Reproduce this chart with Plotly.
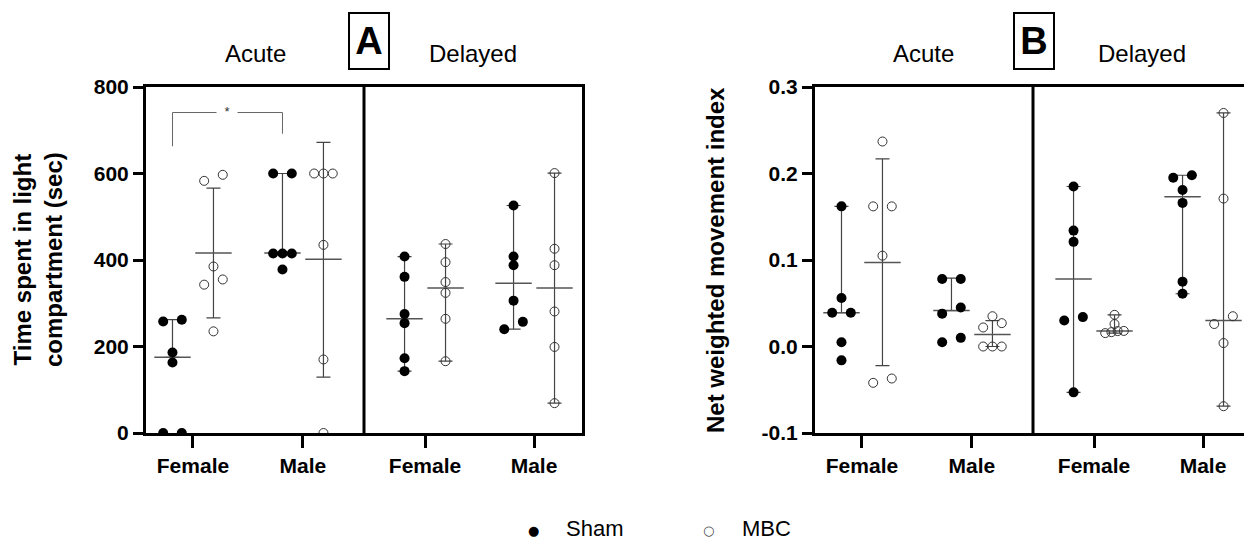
import numpy as np
import plotly.graph_objects as go

# ---------------- data ----------------
tick_labels = ["Female", "Male", "Female", "Male"]
phase_labels = ["Acute", "Delayed"]
series_names = ["Sham", "MBC"]
legend_symbols = ["\u25CF", "\u25CB"]

# Panel A: time spent in light compartment (sec)
a_acute_female_sham = [0, 0, 163, 186, 258, 262]
a_acute_female_mbc = [235, 343, 355, 385, 583, 597]
a_acute_male_sham = [378, 415, 415, 415, 600, 600]
a_acute_male_mbc = [0, 170, 435, 600, 600, 600]
a_delayed_female_sham = [143, 173, 254, 275, 361, 408]
a_delayed_female_mbc = [166, 264, 324, 349, 395, 437]
a_delayed_male_sham = [240, 257, 306, 388, 408, 526]
a_delayed_male_mbc = [69, 199, 281, 388, 426, 601]
# centre line, lower and upper error-bar ends (order: AF, AM, DF, DM)
a_sham_center = [175, 416, 264, 346]
a_sham_low = [175, 416, 143, 240]
a_sham_high = [262, 600, 408, 526]
a_mbc_center = [416, 402, 335, 335]
a_mbc_low = [266, 129, 166, 69]
a_mbc_high = [566, 672, 437, 601]
a_sig_left, a_sig_top, a_sig_right = 663, 741, 692

# Panel B: net weighted movement index
b_acute_female_sham = [-0.016, 0.005, 0.039, 0.039, 0.056, 0.162]
b_acute_female_mbc = [-0.042, -0.037, 0.105, 0.162, 0.162, 0.237]
b_acute_male_sham = [0.005, 0.010, 0.038, 0.045, 0.078, 0.078]
b_acute_male_mbc = [0.0, 0.0, 0.0, 0.022, 0.027, 0.035]
b_delayed_female_sham = [-0.053, 0.030, 0.034, 0.121, 0.134, 0.185]
b_delayed_female_mbc = [0.0155, 0.0166, 0.0178, 0.018, 0.026, 0.0366]
b_delayed_male_sham = [0.061, 0.075, 0.166, 0.181, 0.195, 0.198]
b_delayed_male_mbc = [-0.069, 0.004, 0.026, 0.035, 0.171, 0.270]
b_sham_center = [0.039, 0.0415, 0.078, 0.173]
b_sham_low = [0.039, 0.0415, -0.053, 0.061]
b_sham_high = [0.162, 0.079, 0.185, 0.198]
b_mbc_center = [0.097, 0.014, 0.018, 0.030]
b_mbc_low = [-0.022, 0.0, 0.0155, -0.069]
b_mbc_high = [0.217, 0.030, 0.0366, 0.270]

a_ticks = [0, 200, 400, 600, 800]
b_ticks = [-0.1, 0.0, 0.1, 0.2, 0.3]
b_tick_text = ["-0.1", "0.0", "0.1", "0.2", "0.3"]

# ---------------- layout geometry ----------------
W, H = 1244, 542
A_L, A_R = 146, 582
B_L, B_R = 815, 1244
P_TOP, P_BOT = 87, 433
UNIT_PX = 109.0            # each sub-panel spans 2 x-units
CAT_POS = [0.431, 1.44, 2.56, 3.56]
SUB_OFF = 0.188
A_PXU = (P_BOT - P_TOP) / 800.0
B_PXU = (P_BOT - P_TOP) / 0.4
LEG_SYM_X = [533, 708]
LEG_TXT_X = [565, 741]
LEG_Y = 528

FONT = "Arial, Liberation Sans, sans-serif"
BLACK = "#000000"


def swarm(values, px_per_unit, thresh=8.0, half_span=9.3):
    vals = np.asarray(values, dtype=float)
    order = np.argsort(vals, kind="stable")
    rows, cur = [], []
    for i in order:
        if cur and (vals[i] - vals[cur[0]]) * px_per_unit >= thresh:
            rows.append(cur)
            cur = []
        cur.append(i)
    rows.append(cur)
    off = np.zeros(len(vals))
    for row in rows:
        if len(row) > 1:
            for s, i in zip(np.linspace(-half_span, half_span, len(row)), row):
                off[i] = s
    return off / UNIT_PX


def px_x(p):
    return p / W


def px_y(p):
    return (H - p) / H


fig = go.Figure()

panels = [
    ("x", "y", A_PXU,
     [a_acute_female_sham, a_acute_male_sham, a_delayed_female_sham, a_delayed_male_sham],
     [a_acute_female_mbc, a_acute_male_mbc, a_delayed_female_mbc, a_delayed_male_mbc],
     (a_sham_center, a_sham_low, a_sham_high), (a_mbc_center, a_mbc_low, a_mbc_high)),
    ("x2", "y2", B_PXU,
     [b_acute_female_sham, b_acute_male_sham, b_delayed_female_sham, b_delayed_male_sham],
     [b_acute_female_mbc, b_acute_male_mbc, b_delayed_female_mbc, b_delayed_male_mbc],
     (b_sham_center, b_sham_low, b_sham_high), (b_mbc_center, b_mbc_low, b_mbc_high)),
]

for pi, (xa, ya, pxu, sham_groups, mbc_groups, sham_stats, mbc_stats) in enumerate(panels):
    for si, stats in enumerate([sham_stats, mbc_stats]):
        sign = -1 if si == 0 else 1
        centers, lows, highs = stats
        gx = [c + sign * SUB_OFF for c in CAT_POS]
        fig.add_trace(go.Scatter(
            x=gx, y=centers, xaxis=xa, yaxis=ya, mode="markers", showlegend=False,
            hoverinfo="skip",
            marker=dict(symbol="line-ew", size=26, color="#555555",
                        line=dict(color="#555555", width=1.5)),
            error_y=dict(type="data", symmetric=False,
                         array=[h - c for h, c in zip(highs, centers)],
                         arrayminus=[c - l for c, l in zip(centers, lows)],
                         color="#444444", thickness=1.2, width=7),
        ))
    for si, groups in enumerate([sham_groups, mbc_groups]):
        sign = -1 if si == 0 else 1
        xs, ys = [], []
        for gi, vals in enumerate(groups):
            off = swarm(vals, pxu)
            base = CAT_POS[gi] + sign * SUB_OFF
            xs += list(base + off)
            ys += list(vals)
        if si == 0:
            marker = dict(symbol="circle", size=10, color=BLACK, line=dict(width=0))
        else:
            marker = dict(symbol="circle-open", size=9, color="#333333", line=dict(width=1))
        fig.add_trace(go.Scatter(
            x=xs, y=ys, xaxis=xa, yaxis=ya, mode="markers", marker=marker,
            name=series_names[si], showlegend=False, hoverinfo="skip",
        ))

# significance bracket (panel A, acute female sham vs acute male sham)
bx_l = CAT_POS[0] - SUB_OFF
bx_r = CAT_POS[1] - SUB_OFF
fig.add_trace(go.Scatter(
    x=[bx_l, bx_l, bx_r, bx_r], y=[a_sig_left, a_sig_top, a_sig_top, a_sig_right],
    xaxis="x", yaxis="y", mode="lines", line=dict(color="#666666", width=1),
    showlegend=False, hoverinfo="skip",
))

tick_font = dict(family=FONT, size=21, color=BLACK, weight="bold")
axis_common = dict(showline=True, linecolor=BLACK, linewidth=3, ticks="outside",
                   tickcolor=BLACK, tickwidth=3, showgrid=False, zeroline=False,
                   tickfont=tick_font, automargin=False, fixedrange=True)

annotations = [
    dict(x=(bx_l + bx_r) / 2, y=a_sig_top, xref="x", yref="y", text="*", showarrow=False,
         font=dict(family=FONT, size=13, color="#333333"), bgcolor="white", borderpad=0,
         width=20, yshift=1, yanchor="middle"),
]
for xa in ["x", "x2"]:
    for k, lab in enumerate(phase_labels):
        annotations.append(dict(x=1 + 2 * k, y=px_y(53), xref=xa, yref="paper", text=lab,
                                showarrow=False, yanchor="middle", xanchor="center",
                                font=dict(family=FONT, size=24, color=BLACK)))
for lab, cx in [("A", 369), ("B", 1034)]:
    annotations.append(dict(x=px_x(cx), y=px_y(41), xref="paper", yref="paper", text=lab,
                            showarrow=False, bordercolor=BLACK, borderwidth=2, borderpad=2,
                            width=34, height=50, xanchor="center", yanchor="middle",
                            font=dict(family=FONT, size=38, color=BLACK, weight="bold")))
annotations.append(dict(x=px_x(38), y=px_y(260), xref="paper", yref="paper",
                        text="Time spent in light<br>compartment (sec)", textangle=-90,
                        showarrow=False, xanchor="center", yanchor="middle",
                        font=dict(family=FONT, size=24, color=BLACK, weight="bold")))
annotations.append(dict(x=px_x(715), y=px_y(260), xref="paper", yref="paper",
                        text="Net weighted movement index", textangle=-90, showarrow=False,
                        xanchor="center", yanchor="middle",
                        font=dict(family=FONT, size=24, color=BLACK, weight="bold")))
# legend (symbol + label)
for k, name in enumerate(series_names):
    annotations.append(dict(x=px_x(LEG_SYM_X[k]), y=px_y(LEG_Y + 2), xref="paper", yref="paper",
                            text=legend_symbols[k], showarrow=False, xanchor="center",
                            yanchor="middle", borderpad=0,
                            font=dict(family="DejaVu Sans", size=13,
                                      color=BLACK if k == 0 else "#444444")))
    annotations.append(dict(x=px_x(LEG_TXT_X[k]), y=px_y(LEG_Y), xref="paper", yref="paper",
                            text=name, showarrow=False, xanchor="left", yanchor="middle",
                            borderpad=0,
                            font=dict(family=FONT, size=22, color=BLACK)))

shapes = [
    dict(type="line", xref="x", yref="y domain", x0=2, x1=2, y0=0, y1=1,
         line=dict(color=BLACK, width=3)),
    dict(type="line", xref="x2", yref="y2 domain", x0=2, x1=2, y0=0, y1=1,
         line=dict(color=BLACK, width=3)),
]

ydom = [px_y(P_BOT), px_y(P_TOP)]
fig.update_layout(
    width=W, height=H, margin=dict(l=0, r=0, t=0, b=0, pad=0, autoexpand=False),
    paper_bgcolor="white", plot_bgcolor="white",
    xaxis=dict(domain=[px_x(A_L), px_x(A_R)], range=[0, (A_R - A_L) / UNIT_PX],
               tickvals=CAT_POS, ticktext=tick_labels, ticklen=12, mirror=True,
               anchor="y", **axis_common),
    yaxis=dict(domain=ydom, range=[0, 800], tickvals=a_ticks, ticklen=10, mirror=True,
               anchor="x", **axis_common),
    xaxis2=dict(domain=[px_x(B_L), 1.0], range=[0, (B_R - B_L) / UNIT_PX],
                tickvals=CAT_POS, ticktext=tick_labels, ticklen=12, mirror=True,
                anchor="y2", **axis_common),
    yaxis2=dict(domain=ydom, range=[-0.1, 0.3], tickvals=b_ticks, ticktext=b_tick_text,
                ticklen=10, anchor="x2", **axis_common),
    showlegend=False,
    annotations=annotations,
    shapes=shapes,
)

fig.write_html("out.html", config={"displayModeBar": False},
               post_script="document.body.style.margin='0';document.body.style.overflow='hidden';")
